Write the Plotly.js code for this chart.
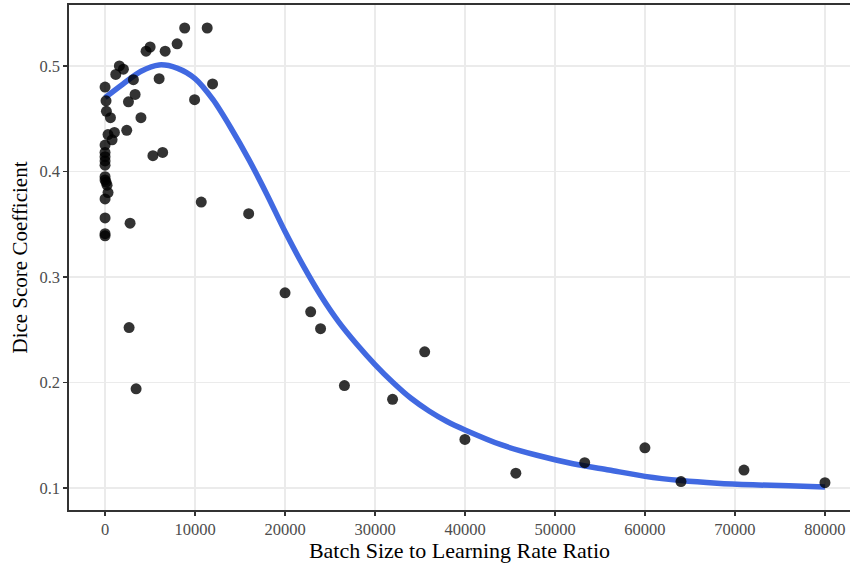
<!DOCTYPE html>
<html>
<head>
<meta charset="utf-8">
<script src="https://cdn.plot.ly/plotly-3.0.1.min.js"></script>
<style>html,body{margin:0;padding:0;background:#fff;}#chart{width:850px;height:563px;}</style>
</head>
<body>
<div id="chart"></div>
<script>
// Observed points: batch size to learning rate ratio vs dice score
const ratioX = [
  0, 0, 0, 0, 0, 0, 0, 0, 0, 0, 0, 0,
  111, 111, 150, 222, 330, 330, 600, 780, 1040, 1190, 1590, 2040,
  2410, 2600, 2780, 2670, 3150, 3340, 3450, 3990, 4560, 5010, 5320, 6010,
  6400, 6680, 8010, 8850, 9950, 10690, 11350, 11950, 15960, 20000, 22850, 23950,
  26600, 31950, 35520, 39990, 45650, 53300, 59990, 64000, 71000, 80000
];
const diceY = [
  0.480, 0.425, 0.418, 0.414, 0.410, 0.406, 0.395, 0.374, 0.356, 0.341, 0.339, 0.392,
  0.467, 0.390, 0.457, 0.387, 0.435, 0.380, 0.451, 0.430, 0.437, 0.492, 0.500, 0.497,
  0.439, 0.466, 0.351, 0.252, 0.487, 0.473, 0.194, 0.451, 0.514, 0.518, 0.415, 0.488,
  0.418, 0.514, 0.521, 0.536, 0.468, 0.371, 0.536, 0.483, 0.360, 0.285, 0.267, 0.251,
  0.197, 0.184, 0.229, 0.146, 0.114, 0.124, 0.138, 0.106, 0.117, 0.105
];
// Smoothed fit line
const fitX = [0, 2000, 4000, 6000, 8000, 10000, 12000, 14000, 16000, 18000, 20000, 22000, 24000, 26000, 28000, 30000, 32000, 34000, 36000, 38000, 40000, 44000, 48000, 52000, 56000, 60000, 64000, 68000, 72000, 76000, 80000];
const fitY = [0.470, 0.483, 0.495, 0.501, 0.498, 0.488, 0.468, 0.441, 0.411, 0.378, 0.343, 0.311, 0.282, 0.257, 0.236, 0.217, 0.200, 0.185, 0.173, 0.163, 0.155, 0.141, 0.131, 0.123, 0.117, 0.111, 0.107, 0.1045, 0.103, 0.102, 0.101];
const xTicks = [0, 10000, 20000, 30000, 40000, 50000, 60000, 70000, 80000];
const yTicks = [0.1, 0.2, 0.3, 0.4, 0.5];

const traces = [
  {x: fitX, y: fitY, type: 'scatter', mode: 'lines', line: {color: '#4169E1', width: 5.5, shape: 'spline', smoothing: 0.8}, hoverinfo: 'skip', showlegend: false},
  {x: ratioX, y: diceY, type: 'scatter', mode: 'markers', marker: {color: '#000000', opacity: 0.8, size: 11, line: {width: 0}}, showlegend: false}
];
const tickFont = {family: 'Liberation Serif, serif', size: 16.5, color: '#4d4d4d'};
const layout = {
  width: 850, height: 563,
  margin: {l: 69, r: 0, t: 5, b: 53},
  paper_bgcolor: '#ffffff', plot_bgcolor: '#ffffff',
  showlegend: false,
  xaxis: {
    range: [-4006, 82782], tickvals: xTicks, ticktext: xTicks.map(v => String(v)),
    showgrid: true, gridcolor: '#ebebeb', gridwidth: 1.8, zeroline: false,
    showline: true, linecolor: '#333333', linewidth: 1.6, mirror: true,
    ticks: 'outside', ticklen: 4, tickwidth: 1.6, tickcolor: '#333333',
    tickfont: tickFont,
    title: {text: 'Batch Size to Learning Rate Ratio', font: {family: 'Liberation Serif, serif', size: 22, color: '#000000'}, standoff: 6}
  },
  yaxis: {
    range: [0.0791, 0.5578], tickvals: yTicks, ticktext: yTicks.map(v => v.toFixed(1)),
    showgrid: true, gridcolor: '#ebebeb', gridwidth: 1.8, zeroline: false,
    showline: true, linecolor: '#333333', linewidth: 1.6, mirror: false,
    ticks: 'outside', ticklen: 4, tickwidth: 1.6, tickcolor: '#333333',
    tickfont: tickFont,
    title: {text: 'Dice Score Coefficient', font: {family: 'Liberation Serif, serif', size: 21, color: '#000000'}, standoff: 6}
  }
};
Plotly.newPlot('chart', traces, layout, {displayModeBar: false, staticPlot: true});
</script>
</body>
</html>
